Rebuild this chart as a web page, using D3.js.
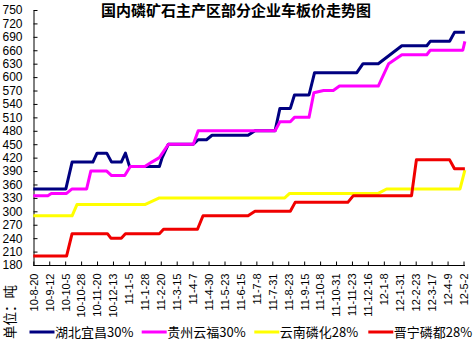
<!DOCTYPE html>
<html><head><meta charset="utf-8">
<script src="https://cdn.jsdelivr.net/npm/d3@7"></script>
<style>body{margin:0;background:#fff}svg{display:block}</style>
</head><body><svg id="c" width="473" height="345"></svg>
<script>
const title = "国内磷矿石主产区部分企业车板价走势图";
const yUnit = "单位：吨";
const xTickLabels = ["10-8-20","10-9-12","10-10-5","10-10-28","10-11-20","10-12-13","11-1-5","11-1-28","11-2-20","11-3-15","11-4-7","11-4-30","11-5-23","11-6-15","11-7-8","11-7-31","11-8-23","11-9-15","11-10-8","11-10-31","11-11-23","11-12-16","12-1-8","12-1-31","12-2-23","12-3-17","12-4-9","12-5-2"];
const yTickValues = [180,210,240,270,300,330,360,390,420,450,480,510,540,570,600,630,660,690,720,750];

const seriesNames = ["湖北宜昌30%","贵州云福30%","云南磷化28%","晋宁磷都28%"];
const seriesColors = ["#000080","#ff00ff","#ffff00","#f00000"];

const hubeiDates = ["2010-08-20","2010-10-06","2010-10-15","2010-11-14","2010-11-20","2010-12-04","2010-12-11","2010-12-25","2010-12-31","2011-01-06","2011-02-18","2011-02-22","2011-03-03","2011-04-08","2011-04-15","2011-04-27","2011-05-05","2011-06-26","2011-07-06","2011-08-04","2011-08-11","2011-08-26","2011-09-01","2011-09-22","2011-09-30","2011-11-30","2011-12-09","2011-12-31","2012-02-03","2012-03-10","2012-03-15","2012-04-12","2012-04-19","2012-05-04"];
const hubeiValues = [350,350,410,410,430,430,410,410,430,400,400,420,450,450,460,460,470,470,480,480,530,530,560,560,610,610,630,630,670,670,680,680,700,700];

const guizhouDates = ["2010-08-20","2010-09-10","2010-09-15","2010-10-07","2010-10-15","2010-11-05","2010-11-11","2010-12-04","2010-12-11","2010-12-30","2011-01-07","2011-01-28","2011-02-07","2011-02-18","2011-03-03","2011-04-08","2011-04-15","2011-08-04","2011-08-11","2011-08-26","2011-09-01","2011-09-22","2011-09-29","2011-10-13","2011-10-27","2011-11-05","2011-12-31","2012-01-15","2012-02-03","2012-03-10","2012-03-15","2012-05-01","2012-05-04"];
const guizhouValues = [335,335,340,340,350,350,390,390,380,380,400,400,410,420,450,450,480,480,500,500,510,510,565,570,570,580,580,630,650,650,660,660,680];

const yunnanDates = ["2010-08-20","2010-10-15","2010-10-22","2011-01-28","2011-02-18","2011-08-18","2011-08-25","2011-12-31","2012-01-12","2012-04-27","2012-05-04"];
const yunnanValues = [290,290,315,315,330,330,340,340,350,350,392];

const jinningDates = ["2010-08-20","2010-10-07","2010-10-15","2010-12-05","2010-12-10","2010-12-25","2010-12-31","2011-02-18","2011-02-24","2011-04-14","2011-04-22","2011-06-26","2011-07-06","2011-08-26","2011-09-02","2011-11-17","2011-11-25","2012-02-17","2012-02-24","2012-04-12","2012-04-19","2012-05-04"];
const jinningValues = [200,200,250,250,240,240,250,250,260,260,290,290,300,300,320,320,335,335,415,415,395,395];

const parseD = d3.timeParse("%Y-%m-%d");
const parseTick = d3.timeParse("%y-%m-%d");
const seriesData = [
  [hubeiDates, hubeiValues],
  [guizhouDates, guizhouValues],
  [yunnanDates, yunnanValues],
  [jinningDates, jinningValues]
].map(([ds, vs]) => ds.map((d, i) => ({date: parseD(d), value: vs[i]})));

const tickDates = xTickLabels.map(parseTick);

const svg = d3.select("#c");
const x = d3.scaleTime().domain([tickDates[0], tickDates[tickDates.length-1]]).range([33.3, 463.5]);
const y = d3.scaleLinear().domain([180, 750]).range([265, 10]);

const font = "'Liberation Sans', Arial, sans-serif";
const cjk = "'Noto Sans CJK SC', 'Liberation Sans', sans-serif";

// title
svg.append("text").attr("x", 236).attr("y", 16).attr("text-anchor", "middle")
  .attr("font-family", cjk).attr("font-weight", "bold").attr("font-size", 15)
  .attr("fill", "#000").text(title);

// y axis
const yAxis = d3.axisLeft(y).tickValues(yTickValues).tickSizeInner(-4).tickSizeOuter(0).tickPadding(11).tickFormat(d3.format("d"));
const gy = svg.append("g").attr("transform", "translate(33.5,0)").call(yAxis);
gy.selectAll("text").attr("font-family", font).attr("font-size", 12).attr("fill", "#000");
gy.selectAll("line,path").attr("stroke", "#000");

// x axis
const xAxis = d3.axisBottom(x).tickValues(tickDates).tickSizeInner(-4).tickSizeOuter(0).tickFormat((d, i) => xTickLabels[i]);
const gx = svg.append("g").attr("transform", "translate(0,265.5)").call(xAxis);
gx.select("path.domain").attr("d", "M33.5,0H465");
gx.selectAll("line,path").attr("stroke", "#000");
gx.selectAll("text")
  .attr("font-family", font).attr("font-size", 11).attr("fill", "#000")
  .attr("text-anchor", "end").attr("x", 0).attr("y", 0).attr("dy", "0.35em")
  .attr("transform", "translate(0,8) rotate(-90)");

// lines
const line = d3.line().x(d => x(d.date)).y(d => y(d.value));
svg.append("g").selectAll("path").data(seriesData).join("path")
  .attr("d", line).attr("fill", "none")
  .attr("stroke", (d, i) => seriesColors[i]).attr("stroke-width", 3)
  .attr("stroke-linejoin", "round");

// y unit label
svg.append("text").attr("transform", "translate(14.5,285) rotate(-90)")
  .attr("text-anchor", "end").attr("font-family", cjk).attr("font-size", 13.5)
  .attr("fill", "#000").text(yUnit);

// legend
const legendX = [29.5, 141.7, 254.3, 368.3];
const lg = svg.append("g").selectAll("g").data(seriesNames).join("g")
  .attr("transform", (d, i) => `translate(${legendX[i]},332)`);
lg.append("line").attr("x1", 0).attr("x2", 25).attr("y1", 0).attr("y2", 0)
  .attr("stroke", (d, i) => seriesColors[i]).attr("stroke-width", 3);
lg.append("text").attr("x", 25.5).attr("y", 4.5).attr("font-family", cjk)
  .attr("font-size", 13).attr("fill", "#000").text(d => d);
</script>
</body></html>
